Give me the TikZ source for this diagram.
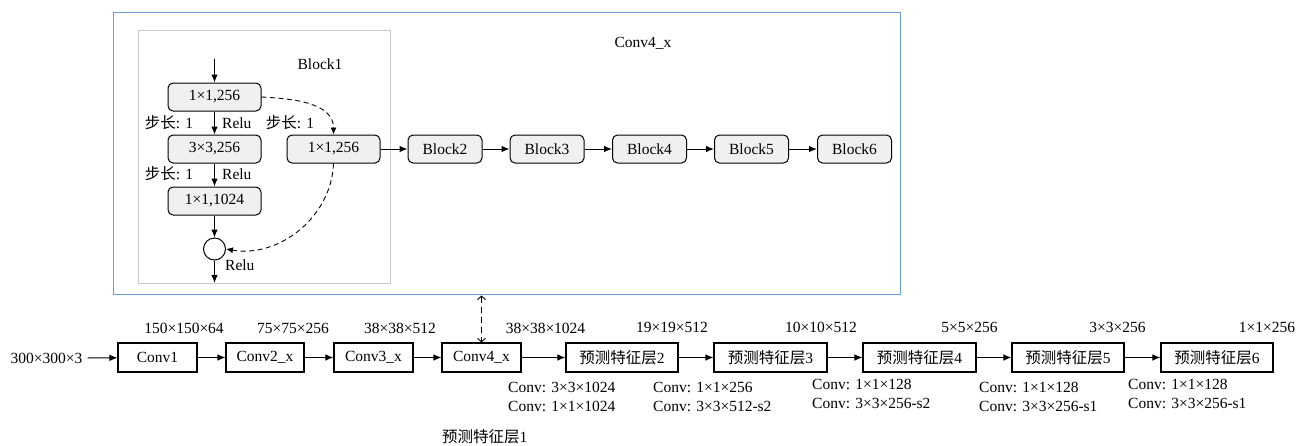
\documentclass[tikz,border=0pt]{standalone}
\usepackage{fontspec}
\setmainfont{Liberation Serif}
\newfontfamily\cjk{Noto Sans CJK SC}
\usetikzlibrary{arrows.meta}
\definecolor{boxgray}{RGB}{240,240,240}
\definecolor{framegray}{RGB}{200,200,200}
\definecolor{frameblue}{RGB}{106,159,219}
\begin{document}
\begin{tikzpicture}[x=1pt,y=-1pt,
  every node/.style={font=\fontsize{15.5}{19}\selectfont, inner sep=0pt},
  rbox/.style={draw, rounded corners=5pt, fill=boxgray, line width=1pt, minimum height=28pt},
  sbox/.style={draw, line width=1.1pt, minimum height=29pt},
  arr/.style={-{Latex[length=8pt,width=6.5pt]}, line width=1pt},
  darr/.style={-{Latex[length=7pt,width=6pt]}, line width=0.9pt, dash pattern=on 5pt off 3.5pt},
  dbl/.style={{Straight Barb[length=3.5pt,width=8pt]}-{Straight Barb[length=3.5pt,width=8pt]}, line width=0.9pt, dash pattern=on 6pt off 4pt}
]
\useasboundingbox (0,0) rectangle (1298,445);
% frames
\draw[frameblue, line width=1pt] (113,12) rectangle (900,294);
\draw[framegray, line width=1pt] (138,30) rectangle (390,283);
\node (t1) at (320,64) {Block1};
\node (t2) at (643,43) {Conv4\_x};
% Block1 internals
\coordinate (in) at (214.5,59);
\node[rbox, minimum width=93pt] (n1) at (214.5,97) {1×1,256};
\node[rbox, minimum width=93pt] (n2) at (214.5,149) {3×3,256};
\node[rbox, minimum width=93pt] (n3) at (214.5,201) {1×1,1024};
\node[draw, circle, line width=1pt, minimum size=22pt] (c) at (214.5,249) {};
\coordinate (out) at (214.5,283);
\node[rbox, minimum width=93pt] (r) at (333.5,149) {1×1,256};
\draw[arr] (in) -- (n1);
\draw[arr] (n1) -- (n2);
\draw[arr] (n2) -- (n3);
\draw[arr] (n3) -- (c);
\draw[arr] (c) -- (out);
\node (s1) at (169,123) {{\cjk 步长}: 1};
\node (s2) at (169,174) {{\cjk 步长}: 1};
\node (s3) at (290,123) {{\cjk 步长}: 1};
\node[anchor=west] (r1) at (222,123) {Relu};
\node[anchor=west] (r2) at (222,174) {Relu};
\node[anchor=west] (r3) at (225,265) {Relu};
\draw[darr] (n1.east) to[out=-3,in=90] (r.north);
\draw[darr] (r.south) to[out=-92,in=-10] (c.east);
% Blocks
\node[rbox, minimum width=74pt] (b2) at (445,149) {Block2};
\node[rbox, minimum width=74pt] (b3) at (547,149) {Block3};
\node[rbox, minimum width=74pt] (b4) at (649.5,149) {Block4};
\node[rbox, minimum width=74pt] (b5) at (751.5,149) {Block5};
\node[rbox, minimum width=74pt] (b6) at (854.5,149) {Block6};
\draw[arr] (r) -- (b2);
\draw[arr] (b2) -- (b3);
\draw[arr] (b3) -- (b4);
\draw[arr] (b4) -- (b5);
\draw[arr] (b5) -- (b6);
% bottom row
\node (inp) at (46.5,358) {300×300×3};
\node[sbox, minimum width=79pt] (c1) at (157.5,357.5) {Conv1};
\node[sbox, minimum width=78pt] (c2) at (265,357.5) {Conv2\_x};
\node[sbox, minimum width=79pt] (c3) at (373.5,357.5) {Conv3\_x};
\node[sbox, minimum width=79pt] (c4) at (481.5,357.5) {Conv4\_x};
\node[sbox, minimum width=112pt] (p2) at (622,357.5) {{\cjk 预测特征层}2};
\node[sbox, minimum width=113pt] (p3) at (770.5,357.5) {{\cjk 预测特征层}3};
\node[sbox, minimum width=113pt] (p4) at (919.5,357.5) {{\cjk 预测特征层}4};
\node[sbox, minimum width=112pt] (p5) at (1068,357.5) {{\cjk 预测特征层}5};
\node[sbox, minimum width=112pt] (p6) at (1217,357.5) {{\cjk 预测特征层}6};
\draw[arr] ([xshift=5pt]inp.east) -- (c1);
\draw[arr] (c1) -- (c2);
\draw[arr] (c2) -- (c3);
\draw[arr] (c3) -- (c4);
\draw[arr] (c4) -- (p2);
\draw[arr] (p2) -- (p3);
\draw[arr] (p3) -- (p4);
\draw[arr] (p4) -- (p5);
\draw[arr] (p5) -- (p6);
\coordinate (bb) at (481.5,295.5);
\draw[dbl] (bb) -- (c4.north);
% dimension labels
\node (d1) at (184,328) {150×150×64};
\node (d2) at (293,328) {75×75×256};
\node (d3) at (400,328) {38×38×512};
\node (d4) at (545.5,328) {38×38×1024};
\node (d5) at (672,327) {19×19×512};
\node (d6) at (821,327) {10×10×512};
\node (d7) at (969.5,327) {5×5×256};
\node (d8) at (1117.5,327) {3×3×256};
\node (d9) at (1267,327) {1×1×256};
% conv labels
\node[anchor=west, align=left] (l1) at (508,396.5) {Conv: 3×3×1024\\Conv: 1×1×1024};
\node[anchor=west, align=left] (l2) at (653,396.5) {Conv: 1×1×256\\Conv: 3×3×512-s2};
\node[anchor=west, align=left] (l3) at (812,394) {Conv: 1×1×128\\Conv: 3×3×256-s2};
\node[anchor=west, align=left] (l4) at (979,396.5) {Conv: 1×1×128\\Conv: 3×3×256-s1};
\node[anchor=west, align=left] (l5) at (1128,394) {Conv: 1×1×128\\Conv: 3×3×256-s1};
\node[anchor=west] (f1) at (442,437) {{\cjk 预测特征层}1};
\end{tikzpicture}
\end{document}
